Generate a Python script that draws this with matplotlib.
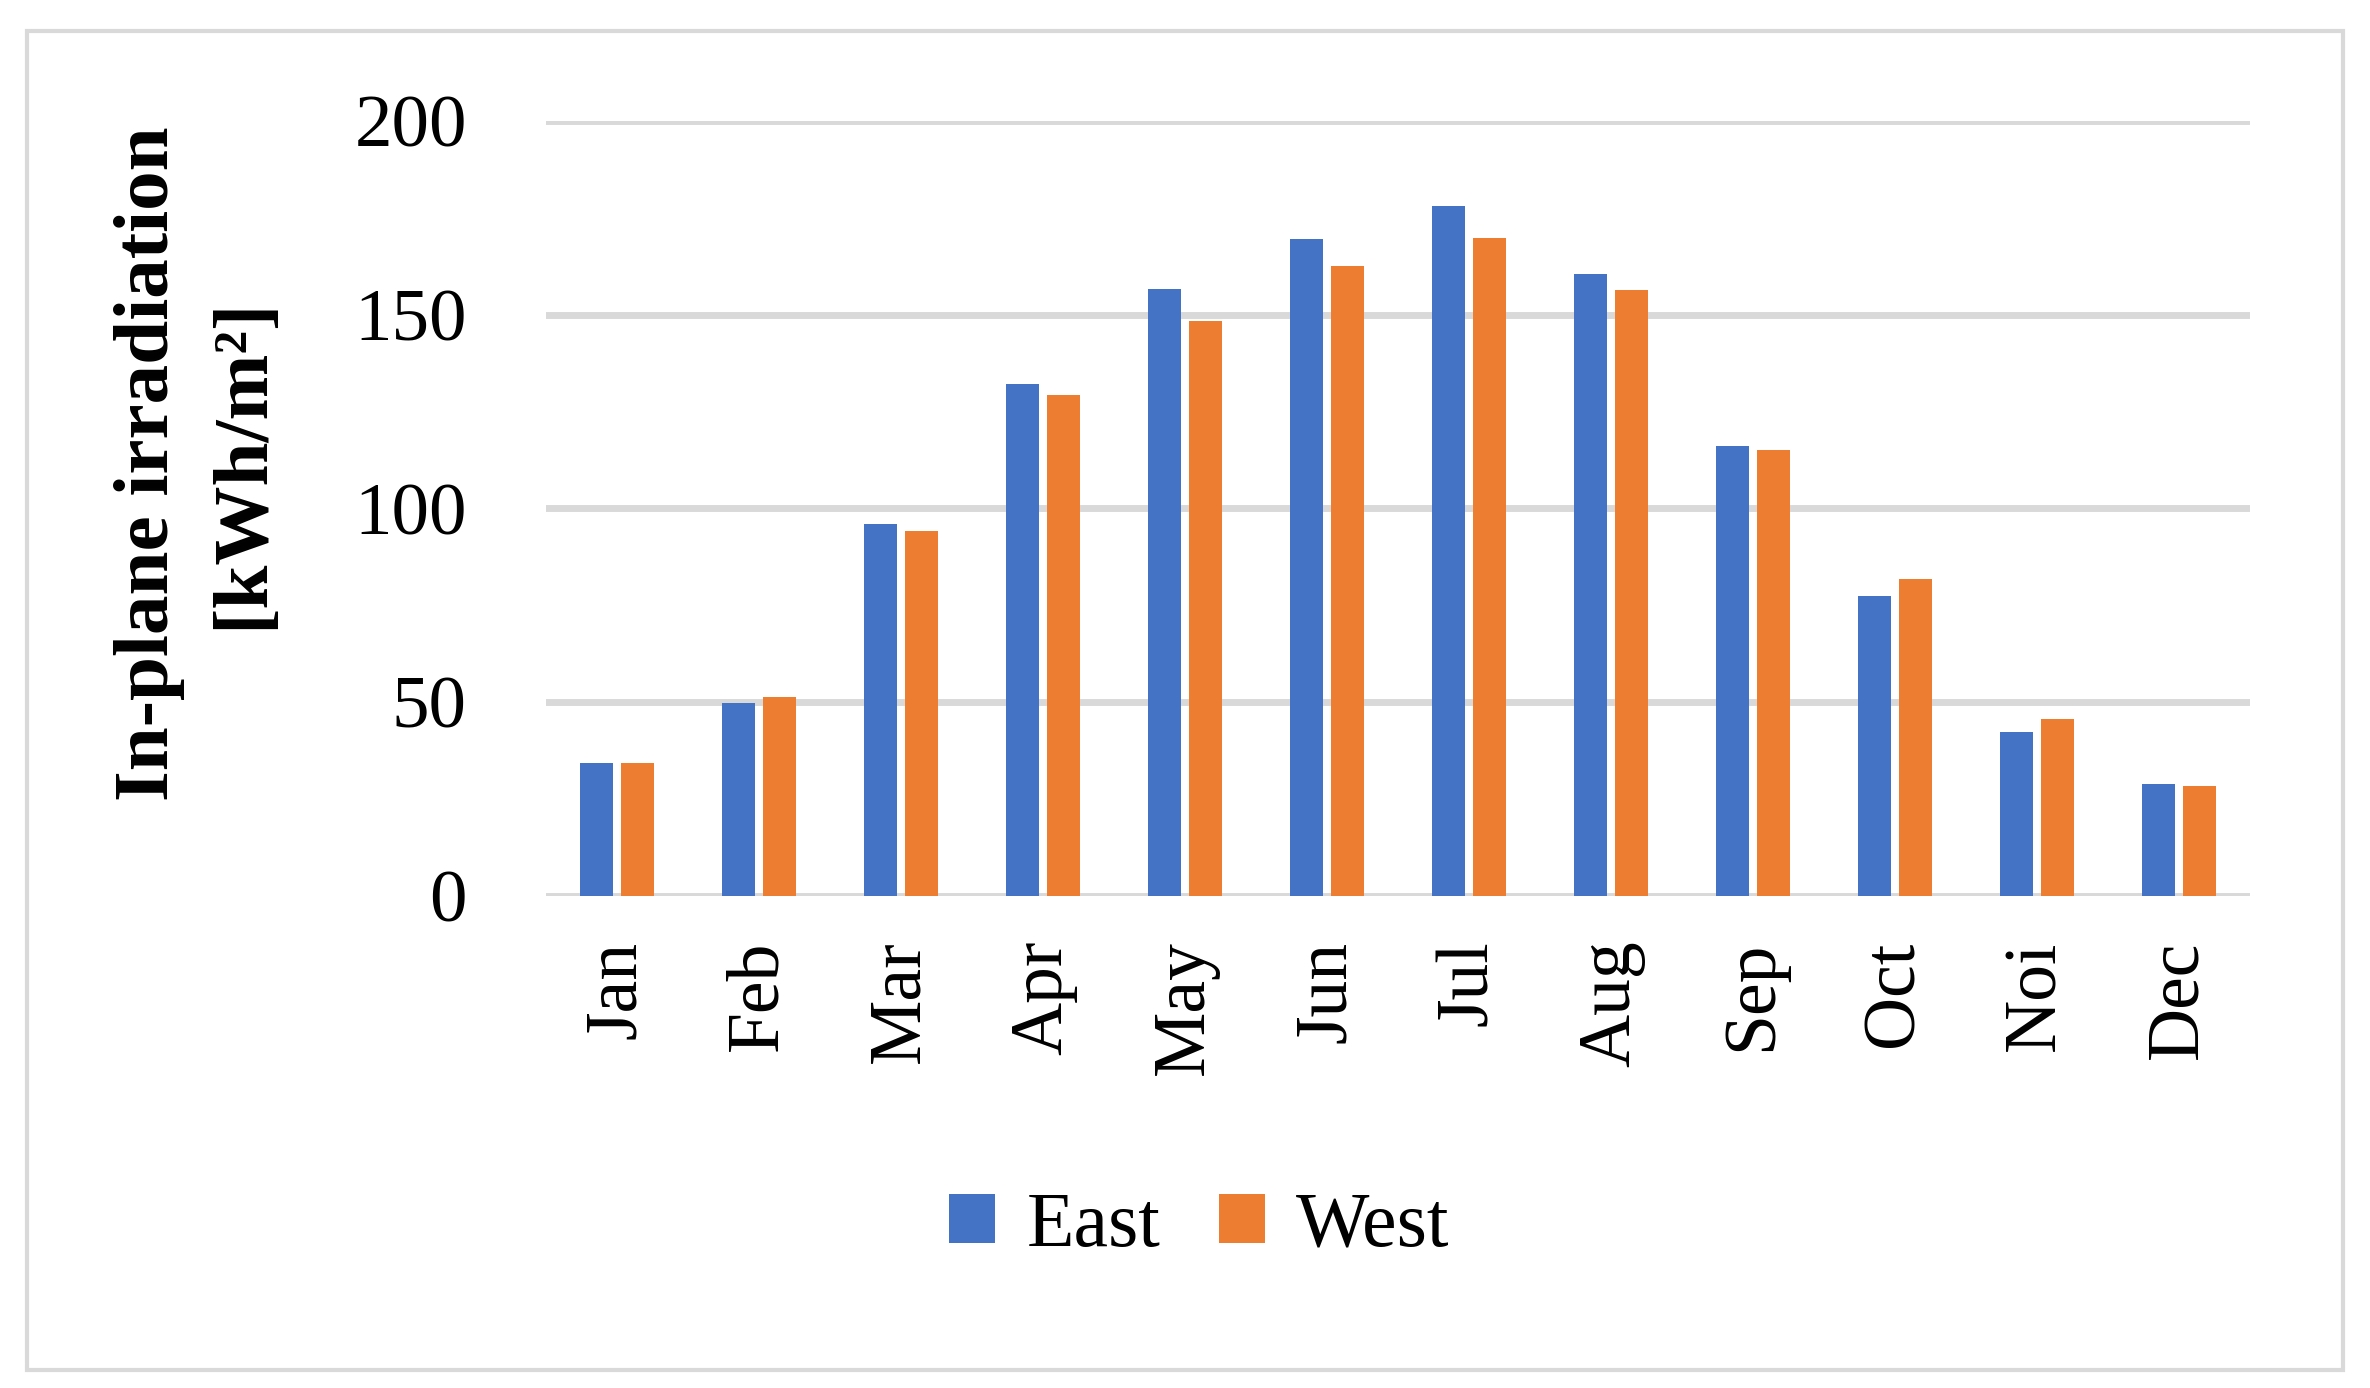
import matplotlib.pyplot as plt
import numpy as np
from matplotlib.patches import Rectangle

months = ["Jan", "Feb", "Mar", "Apr", "May", "Jun", "Jul", "Aug", "Sep", "Oct", "Noi", "Dec"]
east = [34.2, 49.7, 96.1, 132.2, 156.7, 169.5, 178.0, 160.5, 116.2, 77.4, 42.3, 28.8]
west = [34.2, 51.3, 94.1, 129.4, 148.4, 162.7, 169.8, 156.5, 115.2, 81.9, 45.6, 28.3]
yticks = [0, 50, 100, 150, 200]

plt.rcParams["font.family"] = ["Liberation Serif", "DejaVu Serif"]

fig = plt.figure(figsize=(23.7, 13.88), dpi=100)
ax = fig.add_axes([0.2304, 0.3545, 0.719, 0.5583])

x = np.arange(len(months))
w = 0.23
ax.bar(x - 0.145, east, w, color="#4472C4", label="East", zorder=3)
ax.bar(x + 0.145, west, w, color="#ED7D31", label="West", zorder=3)

ax.set_xlim(-0.5, len(months) - 0.5)
ax.set_ylim(0, 200)
ax.set_yticks(yticks)
ax.set_xticks(x)
ax.set_xticklabels(months, rotation=90, fontsize=53)
ax.tick_params(axis="y", labelsize=54, length=0, pad=57)
ax.tick_params(axis="x", length=0, pad=32)
ax.grid(axis="y", color="#d9d9d9", linewidth=5, zorder=0)
for s in ax.spines.values():
    s.set_visible(False)

fig.text(0.063, 0.666, "In-plane irradiation", rotation=90, ha="center", va="center",
         fontsize=57, fontweight="bold")
fig.text(0.103, 0.666, "[kWh/m²]", rotation=90, ha="center", va="center",
         fontsize=57, fontweight="bold")

fig.legend(loc="center", bbox_to_anchor=(0.506, 0.116), ncol=2, frameon=False,
           fontsize=56, handlelength=0.6, handleheight=0.6, handletextpad=0.4,
           columnspacing=0.75)

fig.patches.append(Rectangle((0.0115, 0.013), 0.977, 0.965, transform=fig.transFigure,
                             fill=False, edgecolor="#d9d9d9", linewidth=3))

fig.savefig("out.png", dpi=100)
